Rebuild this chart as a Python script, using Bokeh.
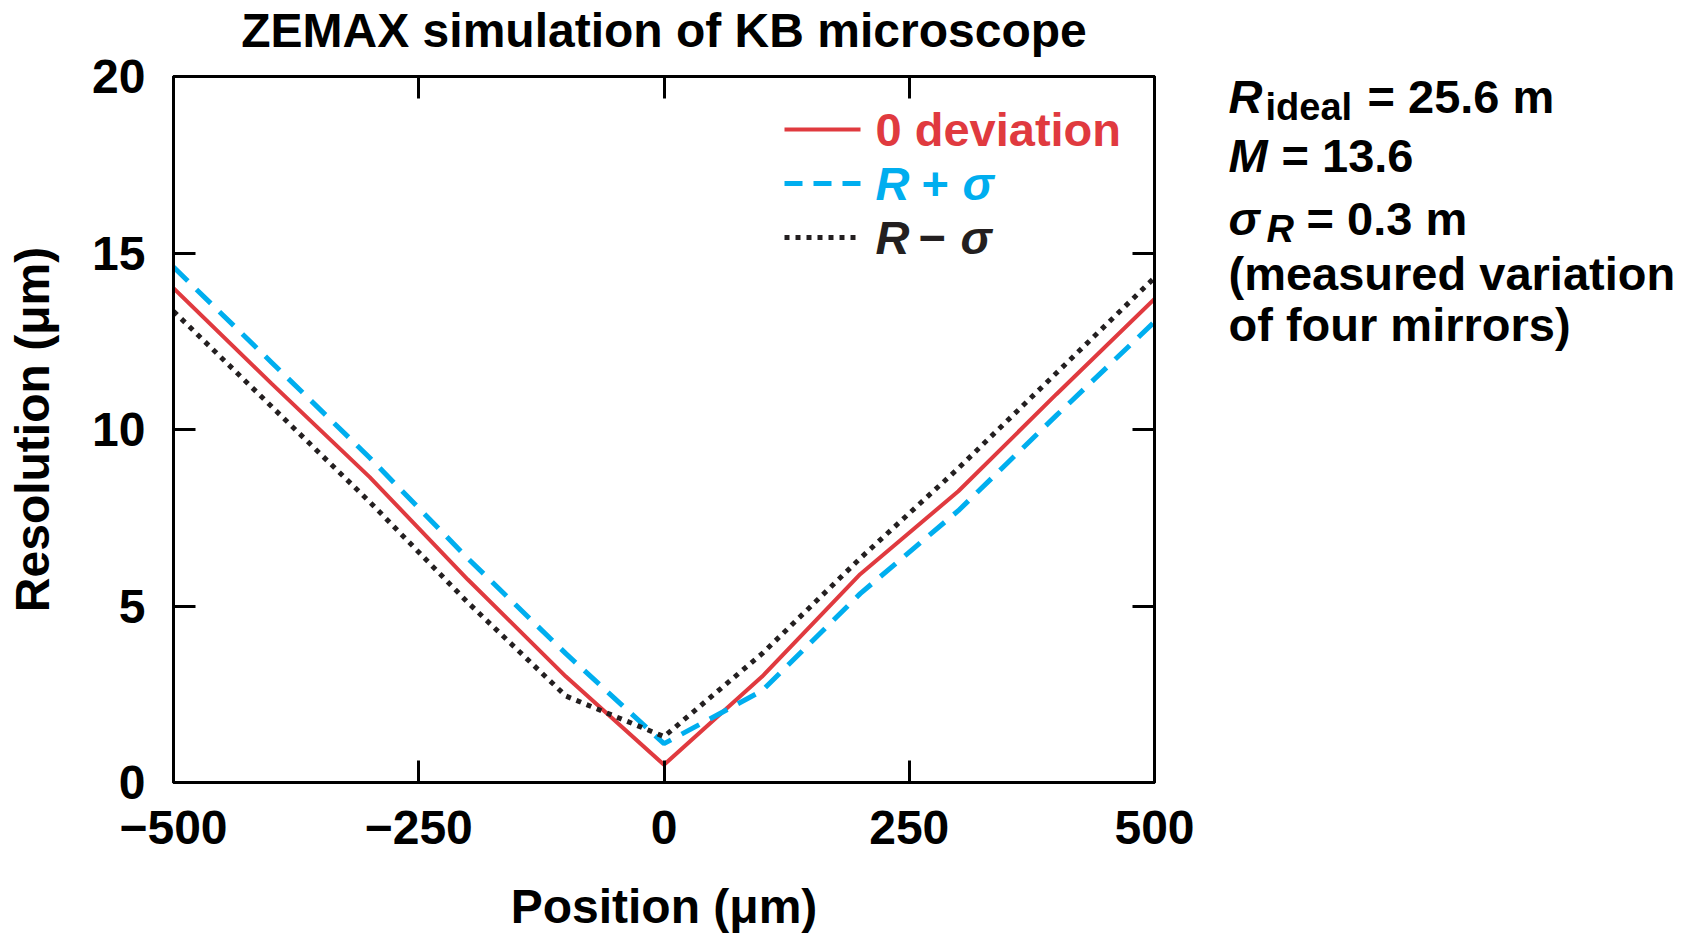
from bokeh.plotting import figure
from bokeh.layouts import row
from bokeh.models import Label, Arrow, LinearAxis, FixedTicker, Range1d
from bokeh.embed import file_html
from bokeh.resources import INLINE

# ---------------- data ----------------
positions = [-500, -400, -300, -200, -100, 0, 100, 200, 300, 400, 500]
res_zero = [14.0, 11.3, 8.65, 5.75, 3.0, 0.5, 3.0, 5.9, 8.25, 11.0, 13.7]
res_plus = [14.6, 11.9, 9.2, 6.35, 3.65, 1.1, 2.6, 5.35, 7.7, 10.4, 13.05]
res_minus = [13.35, 10.65, 7.95, 5.1, 2.45, 1.3, 3.65, 6.35, 8.9, 11.6, 14.3]
x_ticks = [-500, -250, 0, 250, 500]
x_tick_labels = ["\u2212500", "\u2212250", "0", "250", "500"]
y_ticks = [0, 5, 10, 15, 20]
y_tick_labels = ["0", "5", "10", "15", "20"]
title_text = "ZEMAX simulation of KB microscope"
x_label = "Position (\u03bcm)"
y_label = "Resolution (\u03bcm)"

# ---------------- layout / style ----------------
W, H = 1697, 937
PW = 1200                      # width of the chart figure, the rest holds the notes
L, R, T, B = 173, 1154, 76, 782
FONT = "Liberation Sans"
RED, BLUE, BLACK = "#E03A3F", "#00AEEF", "#231F20"

def dx(px):
    return -500 + (px - L) / (R - L) * 1000.0

def dy(py):
    return (B - py) / (B - T) * 20.0

p = figure(width=PW, height=H, x_range=Range1d(-500, 500), y_range=Range1d(0, 20),
           output_backend="svg", toolbar_location=None,
           min_border_left=L, min_border_right=PW - R, min_border_top=T, min_border_bottom=H - B,
           title=title_text)
p.background_fill_color = "white"
p.border_fill_color = "white"
p.grid.visible = False
p.outline_line_color = "black"
p.outline_line_width = 3

p.title.text_font = FONT
p.title.text_font_size = "48px"
p.title.text_font_style = "bold"
p.title.align = "center"
p.title.text_color = "black"
p.title.standoff = 0

def style_axis(ax, ticks, labels, show_labels=True):
    ax.ticker = FixedTicker(ticks=ticks)
    ax.major_tick_in = 22
    ax.major_tick_out = 0
    ax.minor_tick_line_color = None
    ax.major_tick_line_width = 3
    ax.major_tick_line_color = "black"
    ax.axis_line_width = 3
    ax.axis_line_color = "black"
    if show_labels:
        ax.major_label_overrides = {t: s for t, s in zip(ticks, labels)}
        ax.major_label_text_font = FONT
        ax.major_label_text_font_size = "48px"
        ax.major_label_text_font_style = "bold"
        ax.major_label_text_color = "black"
    else:
        ax.major_label_overrides = {t: " " for t in ticks}
        ax.major_label_text_font_size = "1px"
        ax.major_label_standoff = 0

xa = p.xaxis[0]
style_axis(xa, x_ticks, x_tick_labels)
xa.major_label_standoff = 28
xa.axis_label = x_label
xa.axis_label_text_font = FONT
xa.axis_label_text_font_size = "48px"
xa.axis_label_text_font_style = "bold"
xa.axis_label_text_color = "black"
xa.axis_label_standoff = 33

ya = p.yaxis[0]
style_axis(ya, y_ticks, y_tick_labels)
ya.major_label_standoff = 28
ya.axis_label = y_label
ya.axis_label_text_font = FONT
ya.axis_label_text_font_size = "48px"
ya.axis_label_text_font_style = "bold"
ya.axis_label_text_color = "black"
ya.axis_label_standoff = 30

top_ax = LinearAxis()
style_axis(top_ax, x_ticks, x_tick_labels, show_labels=False)
top_ax.major_label_standoff = 16     # keeps the title clear of the frame
p.add_layout(top_ax, "above")
right_ax = LinearAxis()
style_axis(right_ax, y_ticks, y_tick_labels, show_labels=False)
p.add_layout(right_ax, "right")

# ---------------- series ----------------
p.line(positions, res_zero, line_color=RED, line_width=4)
p.line(positions, res_plus, line_color=BLUE, line_width=5, line_dash="20 12")
p.line(positions, res_minus, line_color=BLACK, line_width=5, line_dash="5 6")

# ---------------- legend (drawn by hand, coloured texts) ----------------
LEG_X0, LEG_X1, LEG_TX = 784, 860, 875
rows_y = [129, 183, 237]
samples = [(RED, None, 4), (BLUE, "18 11", 5), (BLACK, "5 6", 5)]
for (col, dash, w), ry in zip(samples, rows_y):
    kw = dict(x_start=dx(LEG_X0), y_start=dy(ry), x_end=dx(LEG_X1), y_end=dy(ry),
              end=None, line_color=col, line_width=w)
    if dash:
        kw["line_dash"] = dash
    p.add_layout(Arrow(**kw))

def lab(fig, x, y, text, color="black", size="47px", style="bold", baseline="middle"):
    fig.add_layout(Label(x=x, y=y, text=text, text_font=FONT, text_font_size=size,
                         text_font_style=style, text_color=color, text_baseline=baseline,
                         text_align="left"))

lab(p, dx(LEG_TX), dy(rows_y[0]), "0 deviation", RED)
lab(p, dx(LEG_TX), dy(rows_y[1]), "R", BLUE, style="bold italic")
lab(p, dx(921), dy(rows_y[1]), "+", BLUE)
lab(p, dx(962), dy(rows_y[1]), "\u03c3", BLUE, style="bold italic")
lab(p, dx(LEG_TX), dy(rows_y[2]), "R", BLACK, style="bold italic")
lab(p, dx(918), dy(rows_y[2]), "\u2212", BLACK)
lab(p, dx(960), dy(rows_y[2]), "\u03c3", BLACK, style="bold italic")

# ---------------- parameter block on the right (own figure, pixel-like coordinates) ----------------
q = figure(width=W - PW, height=H, x_range=Range1d(PW, W), y_range=Range1d(B, T),
           output_backend="svg", toolbar_location=None, x_axis_type=None, y_axis_type=None,
           title_location=None,
           min_border=0, min_border_left=0, min_border_right=0, min_border_top=0, min_border_bottom=0)
q.grid.visible = False
q.outline_line_color = None
q.background_fill_color = "white"
q.border_fill_color = "white"

QS = 17   # measured vertical offset of this figure's frame within the row
RX = 1228

def note(px, py, text, size="47px", style="bold"):
    lab(q, px, py - QS, text, size=size, style=style, baseline="alphabetic")

note(RX, 113, "R", style="bold italic")
note(1265, 123, "ideal", size="38px")
note(1367, 113, "= 25.6 m")
note(RX, 172, "M", style="bold italic")
note(1281, 172, "= 13.6")
note(RX, 235, "\u03c3", style="bold italic")
note(1266, 245, "R", size="38px", style="bold italic")
note(1306, 235, "= 0.3 m")
note(RX, 290, "(measured variation")
note(RX, 341, "of four mirrors)")

layout = row(p, q, spacing=0)
open("out.html", "w").write(file_html(layout, INLINE))
